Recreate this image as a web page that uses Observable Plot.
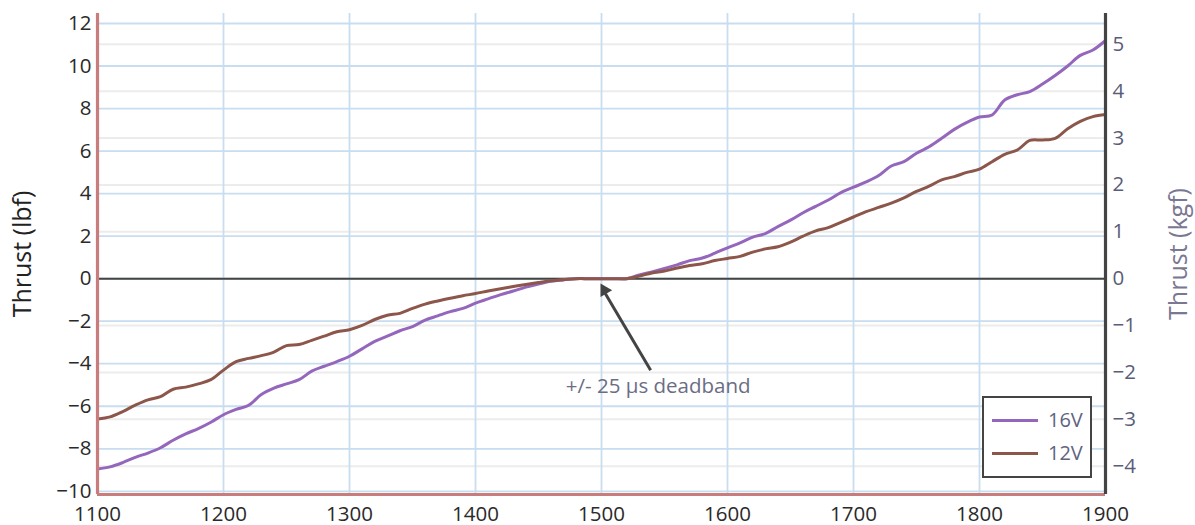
<!DOCTYPE html>
<html>
<head>
<meta charset="utf-8">
<script src="https://cdn.jsdelivr.net/npm/d3@7"></script>
<script src="https://cdn.jsdelivr.net/npm/@observablehq/plot@0.6"></script>
<style>
  html, body { margin: 0; padding: 0; background: #fff; }
  #wrap { position: relative; width: 1195px; height: 525px; font-family: 'Open Sans', sans-serif; }
  #legend { position: absolute; left: 982px; top: 396px; width: 110px; height: 82px; box-sizing: border-box;
            border: 2px solid #444; background: #fff; }
  .item { position: absolute; left: 8px; height: 24px; display: flex; align-items: center; }
  .swatch { width: 46px; height: 3px; margin-right: 10px; }
  .lbl { font-size: 20px; color: #5f6380; line-height: 24px; }
</style>
</head>
<body>
<div id="wrap"></div>
<script>
// ---- data ----
const lbfPerKgf = 2.20462;
const seriesNames = ["16V", "12V"];
const seriesColors = ["#9467bd", "#8c564b"];
const pwm = [1100,1110,1120,1130,1140,1150,1160,1170,1180,1190,
             1200,1210,1220,1230,1240,1250,1260,1270,1280,1290,
             1300,1310,1320,1330,1340,1350,1360,1370,1380,1390,
             1400,1410,1420,1430,1440,1450,1460,1470,1480,1490,
             1500,1510,1520,1530,1540,1550,1560,1570,1580,1590,
             1600,1610,1620,1630,1640,1650,1660,1670,1680,1690,
             1700,1710,1720,1730,1740,1750,1760,1770,1780,1790,
             1800,1810,1820,1830,1840,1850,1860,1870,1880,1890,1900];
const thrust16V = [-8.95,-8.85,-8.65,-8.4,-8.2,-7.95,-7.6,-7.3,-7.05,-6.75,
                   -6.4,-6.15,-5.95,-5.45,-5.15,-4.95,-4.75,-4.35,-4.12,-3.9,
                   -3.65,-3.3,-2.95,-2.7,-2.45,-2.25,-1.95,-1.75,-1.55,-1.4,
                   -1.15,-0.95,-0.75,-0.58,-0.4,-0.25,-0.12,-0.05,0,0,
                   0,0,0,0.17,0.32,0.48,0.65,0.85,0.97,1.2,
                   1.45,1.68,1.95,2.12,2.45,2.75,3.1,3.4,3.7,4.05,
                   4.3,4.55,4.85,5.3,5.5,5.9,6.2,6.6,7.02,7.35,
                   7.6,7.7,8.4,8.65,8.8,9.15,9.55,10.0,10.5,10.75,11.2];
const thrust12V = [-6.6,-6.5,-6.25,-5.95,-5.7,-5.55,-5.2,-5.1,-4.95,-4.75,
                   -4.3,-3.9,-3.75,-3.62,-3.45,-3.15,-3.1,-2.9,-2.7,-2.5,
                   -2.4,-2.2,-1.92,-1.72,-1.63,-1.4,-1.2,-1.05,-0.92,-0.8,
                   -0.7,-0.58,-0.47,-0.37,-0.27,-0.18,-0.1,-0.05,0,0,
                   0,0,0,0.12,0.27,0.36,0.5,0.62,0.7,0.85,
                   0.95,1.05,1.25,1.4,1.5,1.72,2.0,2.25,2.4,2.65,
                   2.9,3.15,3.35,3.55,3.8,4.1,4.35,4.65,4.8,5.0,
                   5.15,5.5,5.85,6.05,6.5,6.52,6.6,7.05,7.4,7.62,7.72];
const pwmTicks = [1100,1200,1300,1400,1500,1600,1700,1800,1900];
const lbfTicks = [-10,-8,-6,-4,-2,0,2,4,6,8,10,12];
const kgfTicks = [-4,-3,-2,-1,0,1,2,3,4,5];
const xDomain = [1100, 1900];
const yDomain = [-10.15, 12.47];
const leftTitle = "Thrust (lbf)";
const rightTitle = "Thrust (kgf)";
// annotation (data coordinates)
const noteText = ["+/- 25 µs deadband"];
const noteTextPos = [{pwm: 1545, thrust: -5.07}];
const noteArrow = [{x1: 1539, y1: -4.31, x2: 1503, y2: -0.7}];
const noteHead = [{pwm: 1502.3, thrust: -0.54}];

// ---- build table ----
const rows = [];
pwm.forEach((p, i) => {
  rows.push({pwm: p, thrust: thrust16V[i], series: seriesNames[0]});
  rows.push({pwm: p, thrust: thrust12V[i], series: seriesNames[1]});
});
const kgfInLbf = kgfTicks.map(k => k * lbfPerKgf);
const fmtSigned = k => (k < 0 ? "\u2212" + (-k) : String(k));

const chart = Plot.plot({
  width: 1195,
  height: 525,
  marginLeft: 97,
  marginRight: 90,
  marginTop: 13,
  marginBottom: 31,
  style: {fontFamily: "'Open Sans', sans-serif", fontSize: "20.5px", color: "#333", background: "white", overflow: "visible"},
  x: {domain: xDomain},
  y: {domain: yDomain},
  color: {domain: seriesNames, range: seriesColors},
  marks: [
    Plot.ruleY(kgfInLbf, {stroke: "#ececec", strokeWidth: 2}),
    Plot.ruleY(lbfTicks, {stroke: "#c8ddef", strokeWidth: 1.8}),
    Plot.ruleX(pwmTicks, {stroke: "#c8ddef", strokeWidth: 1.8}),
    Plot.ruleY([0], {stroke: "#444", strokeWidth: 2}),
    Plot.line(rows, {x: "pwm", y: "thrust", stroke: "series", z: "series", strokeWidth: 3, curve: "catmull-rom"}),
    Plot.ruleX([xDomain[0]], {stroke: "#c97c7c", strokeWidth: 3.2}),
    Plot.ruleY([yDomain[0]], {stroke: "#c97c7c", strokeWidth: 3.2}),
    Plot.ruleX([xDomain[1]], {stroke: "#444", strokeWidth: 3.2}),
    Plot.axisY({anchor: "left", ticks: lbfTicks, tickSize: 0, tickPadding: 6, label: null, fill: "#2a2a2a", fontSize: 20.5}),
    Plot.axisY({anchor: "right", ticks: kgfInLbf, tickSize: 0, tickPadding: 7, label: null, fontSize: 20.5,
                tickFormat: d => fmtSigned(Math.round(d / lbfPerKgf)), fill: "#5a5d78"}),
    Plot.axisX({ticks: pwmTicks, tickSize: 0, tickPadding: 12, label: null, fill: "#2a2a2a", fontSize: 20.5, tickFormat: d => String(d)}),
    Plot.text([leftTitle], {frameAnchor: "left", textAnchor: "middle", rotate: -90, dx: -75, fontSize: 25, fill: "#222"}),
    Plot.text([rightTitle], {frameAnchor: "right", textAnchor: "middle", rotate: -90, dx: 73, fontSize: 25, fill: "#7a7792"}),
    Plot.link(noteArrow, {x1: "x1", y1: "y1", x2: "x2", y2: "y2", stroke: "#444", strokeWidth: 3}),
    Plot.dot(noteHead, {x: "pwm", y: "thrust", symbol: "triangle", r: 5, fill: "#444", stroke: "none", rotate: -30}),
    Plot.text(noteText, {x: noteTextPos.map(d => d.pwm), y: noteTextPos.map(d => d.thrust), fill: "#6b6d85", fontSize: 20.5})
  ]
});

const wrap = document.getElementById("wrap");
wrap.appendChild(chart);

// legend
const legend = document.createElement("div");
legend.id = "legend";
seriesNames.forEach((name, i) => {
  const item = document.createElement("div");
  item.className = "item";
  item.style.top = (10 + i * 33) + "px";
  const sw = document.createElement("div");
  sw.className = "swatch";
  sw.style.background = seriesColors[i];
  const lb = document.createElement("span");
  lb.className = "lbl";
  lb.textContent = name;
  item.appendChild(sw);
  item.appendChild(lb);
  legend.appendChild(item);
});
wrap.appendChild(legend);
</script>
</body>
</html>
